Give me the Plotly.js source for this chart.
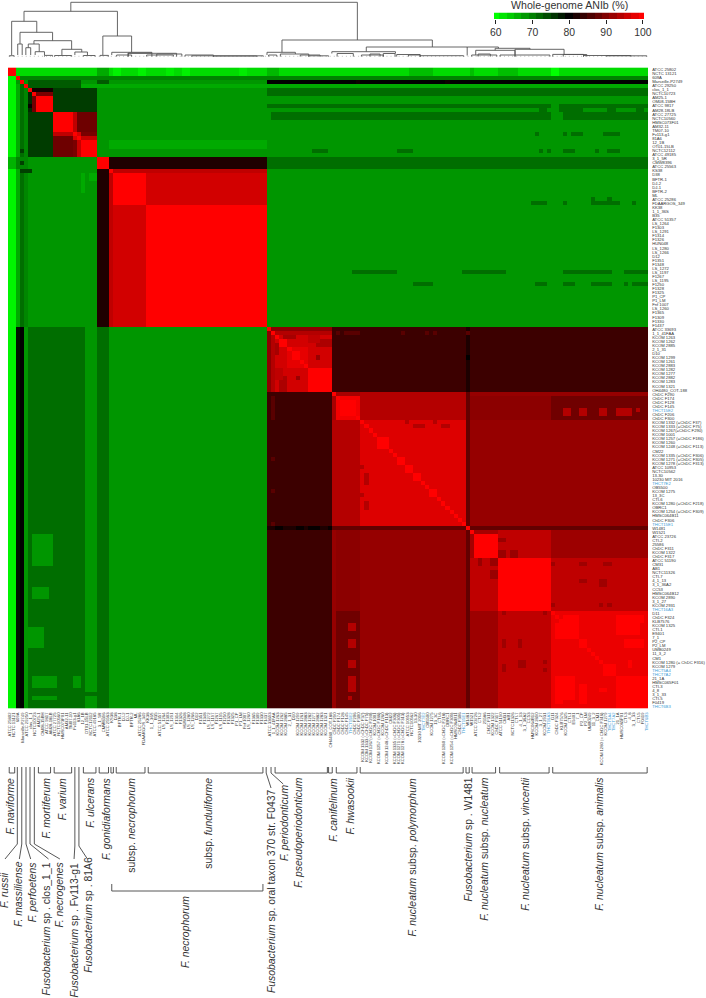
<!DOCTYPE html>
<html>
<head>
<meta charset="utf-8">
<script src="https://cdn.plot.ly/plotly-3.0.1.min.js"></script>
<style>html,body{margin:0;padding:0;background:#fff}</style>
</head>
<body>
<div id="chart" style="width:706px;height:998px"></div>
<script>
var strainsUpper = ["ATCC 25802","NCTC 13121","609A","Marseille-P2749","ATCC 29250","clos_1_1","NCTC10723","AM25-1","OM08-15BH","ATCC 9817","AM28-18LB","ATCC 27725","NCTC10560","HMSC073F01","AM32-11","TM07-10","Fv113-g1","81A6","12_1B","OT01-15LB","NCTC12112","ATCC 49185","3_1_5R","CMW8396","ATCC 25563","KS38","D38","BFTR-1","DJ-2","DJ-1","BFTR-2","ML","ATCC 25286","FDAARGOS_349","KK38","1_1_36S","B35","ATCC 51357","LS_1264","F1303","LS_1291","F1314","F1326","HUN048","LS_1280","LS_1266","D12","F1351","F1348","LS_1272","LS_1197","F1267","LS_1195","F1250","F1328","F1325","P1_CP","P1_LM","Fnf 1007","LS_1260","F1365","F1309","F1330","F1437"];
var strainsLower = ["ATCC 33693","1_1_41FAA","KCOM 1263","KCOM 1262","KCOM 2885","2_1_31","D10","KCOM 1299","KCOM 1261","KCOM 2883","KCOM 1282","KCOM 1277","KCOM 2882","KCOM 1283","KCOM 1321","OH4480_COT-188","ChDC F290","ChDC F174","ChDC F128","ChDC F145","THCT15E2","ChDC F206","ChDC F300","KCOM 1332 (=ChDC F37)","KCOM 1333 (=ChDC F75)","KCOM 1267(=ChDC F290)","KCOM 1001","KCOM 1257 (=ChDC F186)","KCOM 1260","KCOM 1248 (=ChDC F113)","CM22","KCOM 1335 (=ChDC F306)","KCOM 1271 (=ChDC F305)","KCOM 1278 (=ChDC F313)","ATCC 10953","NCTC10562","13-30","10230 MIT 2016","THCT7E2","OB5500","KCOM 1275","13_3C","CTI-6","KCOM 1280 (=ChDC F218)","OBRC1","KCOM 1254 (=ChDC F309)","HMSC064B11","ChDC F306","THCT15E1","W1481","W1521","ATCC 23726","CTI-2","25586","ChDC F311","KCOM 1322","ChDC F317","ATCC 51190","CM31","AB1","NCTC11326","CTI-7","4_1_13","3_1_36A2","CC53","HMSC064B12","KCOM 2890","3_1_27","KCOM 2931","THCT16A3","D11","ChDC F324","KLB7576","KCOM 1325","CTI-1","E9401","7_1","P2_CP","P2_LM","UMB0249","11_3_2","CM1","KCOM 1280 (= ChDC F316)","KCOM 1279","THCT5A4","THCT7A2","21_1A","HMSC065F01","CTI-3","4_8","3_1_33","CTI-5","F0419","THCT6B3"];
var blueStrains = ["THCT15E2","THCT7E2","THCT15E1","THCT16A3","THCT5A4","THCT7A2","THCT6B3"];

// ANIb: [rowFrom,rowTo,colFrom,colTo,value]
var backgroundAni = 68.2;
var symmetricBlocks = [
[22,24,64,157,71.4],[5,10,11,21,75.3],[22,24,25,63,82.4],[25,63,25,63,96.5],[25,25,25,63,95],[26,33,26,33,100],[34,63,34,63,100],
[5,5,6,10,81.5],[6,6,7,10,89.4],[7,10,7,10,100],[11,15,11,15,100],[11,15,16,16,95],[11,15,17,21,88.6],[16,16,17,17,97],[16,16,18,21,89.5],[17,17,18,21,95.5],[18,21,18,21,100],[22,24,22,24,100],[0,1,0,1,100],
[64,79,64,157,84.7],[64,64,65,79,91],[65,65,66,79,94],[66,79,66,79,96.5],[69,73,69,73,98],[67,68,67,68,100],[70,71,70,71,100],[74,79,74,79,100],[66,66,68,70,93],[67,68,76,79,93.5],[71,71,76,76,92],[74,76,66,67,95],
[80,157,80,157,91.8],[80,86,80,86,93],[81,86,81,86,99],[82,84,82,85,100],[80,86,87,112,94.1],[87,112,87,112,97.3],[81,86,134,157,88.8],[81,86,114,133,91],
[113,113,64,79,82.3],[113,113,80,157,87.8],[114,120,114,120,93],[115,120,115,120,100],[114,120,121,133,95],[114,120,134,157,92.3],[121,133,121,133,100],[121,133,134,157,95],[134,157,134,157,98.4],
[137,140,137,140,100],[141,142,141,142,100],[147,149,147,149,100],[150,157,150,157,100],[135,136,137,140,100],[135,135,150,152,100],[135,135,155,156,100],[137,138,150,152,100],[137,138,155,155,100],[150,156,135,136,100],[150,155,137,139,100],[152,156,141,142,100],[153,153,146,147,100],
[122,122,141,142,92.5],[122,122,147,148,92.5],[122,122,134,134,92.5],[126,126,141,142,92.5],[126,127,146,147,92.5],[132,132,134,134,92.5],[132,132,146,146,92.5],[132,132,148,148,92.5],[116,116,121,122,92],[119,120,121,122,92],[119,120,124,125,92],
[84,85,137,138,94],[84,85,141,142,94],[84,85,146,147,94],[84,85,150,153,94],[84,84,155,155,94],[87,87,98,98,94],[88,88,100,102,94],[87,87,105,105,94],[88,88,107,108,94],
[91,93,91,93,100],[96,97,96,97,100],[98,99,98,99,100],[100,101,100,101,100],[104,105,104,105,100]
];
var oneWayBlocks = [
[0,1,2,157,62.8],[2,157,0,1,60.8],[0,1,22,24,66.7],[0,1,26,27,61],[0,1,32,33,61],[0,1,39,40,61.5],[0,1,43,44,61],[0,1,57,58,61.5],[0,1,64,66,65.5],[0,1,99,104,65],[0,1,114,114,65],[0,1,121,125,65],[0,1,134,135,60],
[2,2,3,157,69.8],[3,4,5,17,72.9],[3,3,18,21,68.2],[3,3,22,24,72.9],[4,4,18,157,66.7],[3,3,64,157,80],[3,3,86,86,81],[3,3,108,108,81],
[5,6,64,157,71.5],[9,9,64,157,71.4],[9,9,134,135,68.2],[11,12,65,157,71.4],[11,12,134,136,68.2],[10,10,131,132,71.4],[10,10,136,141,71.4],[10,10,148,149,71.4],[10,10,155,156,71.4],
[16,16,130,130,71.4],[16,16,137,137,71.4],[16,16,139,141,71.4],[16,16,147,150,71.4],[20,20,75,78,71.4],[20,20,96,99,71.4],[20,20,131,131,71.4],[20,20,133,133,71.4],[20,20,137,139,71.4],[20,20,145,145,71.4],[20,20,148,150,71.4],
[32,32,144,144,71.4],[32,32,148,148,71.4],[33,33,129,132,71.4],[33,33,137,137,71.4],[33,33,144,146,71.4],[33,33,147,150,71.4],[33,33,154,154,71.4],
[50,50,85,95,71.4],[50,50,112,122,71.4],[50,50,137,143,71.4],[50,50,144,147,71.4],[50,50,148,148,71.4],[50,50,152,157,71.4],[53,53,100,104,71.4],[53,53,130,132,71.4],[53,53,137,139,71.4],[53,53,144,147,71.4],[53,53,148,148,71.4],[53,53,152,152,71.4],[53,53,154,157,71.4],
[18,19,25,63,66.7],[22,24,0,1,66],[4,63,2,2,66.7],[4,63,3,3,71.4],[5,63,4,4,69.5],[22,24,2,4,69.5],[20,20,3,3,75],[23,23,3,3,75],[25,25,3,5,75],
[64,157,2,2,78.5],[64,157,3,3,80],[64,157,4,4,68.2],[64,157,5,18,71.4],
[150,152,6,11,68.2],[155,155,6,11,68.2],[150,152,16,17,68.2],[154,154,19,21,71.4],[115,122,6,10,68.2],[128,130,6,9,68.2],[138,142,5,8,68.2],
[6,10,5,5,76.8],[9,9,5,5,80.5],[7,10,6,6,88.6],
[71,71,113,113,80],[113,113,66,67,80.5],[113,113,71,72,80.5],[113,113,74,76,80.5],[113,113,79,79,80.5],
[65,65,81,81,87],[65,65,83,86,87],[65,65,97,97,87],[65,65,103,103,87],[65,65,105,105,87],[65,65,113,113,87],[81,86,65,65,87],[96,96,65,65,87],[104,104,65,65,87],[112,112,65,65,87],
[26,28,18,18,66.7],[26,27,20,21,66.7],[29,30,18,18,66.7]
];

var colorbarValues = [60,62,64,66,68,70,72,74,76,78,80,82,84,86,88,90,92,94,96,98,100];
var colorbarTicks = [60,70,80,90,100];
var colorStops = [[0,"#00ff00"],[0.5,"#000000"],[1,"#ff0000"]];

// dendrogram links: [left leaf, right leaf, height, left child height, right child height]
var dendroLinks = [
[15.5,86.2,54.7,45.7,17],[3.95,27,45.7,35.7,21],[0.9,7.1,35.7,2,24.7],[2.96,11,24.7,13,16.3],[2.4,3.5,13,2,2],[6.4,15.7,16.3,13,7.7],[5,7.7,13,9.3,5.3],[4.4,5.6,9.3,2,2],[6.7,9,5.3,2,2],[13.3,18.2,7.7,2,5],[16.5,19.6,5,2,2],[23.4,30.5,21,2,4.7],[25.6,35.5,4.7,2,4],
[67.6,104.7,17,4.7,10],[88.4,113.3,10,5.3,9.7],[79.9,95.6,5.3,3.5,3.5],[113.3,121,10,1.5,8.7],[120.2,128.8,8.7,6.7,7.7],[115.4,125.1,6.7,2,2],[125.1,137.2,7.7,2,3],[63.9,70.9,4.7,2,3]
];
// low joins at the foot of the tree: [left leaf, right leaf, height]
var dendroFringe = [
[0.33,1.5,1.3],[9,11,1.6],[11.5,15.7,1.5],[18.6,21.5,1.5],[22.7,24.8,1.6],[26.8,30.5,2],[29.7,35.5,4],[29.6,41.6,3.7],[34.2,40.8,2],[36.7,42.9,3],[43.7,50.7,2],[45.3,63,1.2],[50.7,61.4,1],[64.3,66.3,2],[67.2,74.2,3],[72.1,77,2],[74.2,79.1,1.2],[81.2,85.2,3.5],[87.2,92.6,2],[89.3,91.8,3],[92.6,95.5,3.5],[95.9,101.7,2.5],[98.8,101.7,2],[101.7,112.4,1.3],[114.4,120.6,2],[116,119,3],[121.4,125.1,2],[125.1,133.7,2],[134.4,142,2.6],[137,142.8,2.5],[142,153.7,1.5],[147.7,157.6,1.2]
];

// species brackets under the heatmap, in cell-edge units: [from, to]
var speciesBrackets = [[0.3,1.65],[7.5,10.5],[11.4,15.7],[18.6,21.7],[22.5,24.8],[25.4,26],[26.7,33.8],[34.6,62.9],[65.9,78.8],[79.1,80],[81,86.1],[86.9,112.3],[113,113.8],[114.5,120.3],[121.3,133.5],[134.4,157.7]];
var necrophorumBracket = [25.6,62.9];
// leader lines: [start, bend depth, end, end depth]
var leaderLines = [[2.3,134,-0.74,149],[3.4,134,2.8,149],[4.44,134,5.6,149],[5.43,134,10,149],[6.5,134,12.8,149],[16.5,136,16.3,149],[17.5,136,19.6,149],[63.7,63,64.9,78],[64.9,63,67.9,74]];
// species names: [centre, first depth, text]
var speciesNames = [
[0.5,68,"<i>F. naviforme</i>"],[-1,162,"<i>F. russii</i>"],[2.5,152,"<i>F. massiliense</i>"],[6,152,"<i>F. perfoetens</i>"],[9.6,152,"<i>Fusobacterium</i> sp . clos_1_1"],[12.8,152,"<i>F. necrogenes</i>"],[16.3,153,"<i>Fusobacterium</i> sp . Fv113-g1"],[19.7,147,"<i>Fusobacterium</i> sp . 81A6"],
[9.4,68,"<i>F. mortiferum</i>"],[13.4,68,"<i>F. varium</i>"],[20.2,68,"<i>F. ulcerans</i>"],[24.2,68,"<i>F. gonidiaformans</i>"],[30.4,68,"subsp. <i>necrophorum</i>"],[49.4,68,"subsp. <i>funduliforme</i>"],[43.7,186,"<i>F. necrophorum</i>"],
[64.9,79,"<i>Fusobacterium</i> sp. oral taxon 370 str. F0437"],[68.1,75,"<i>F. periodonticum</i>"],[71.5,68,"<i>F. pseudoperiodonticum</i>"],[80.1,68,"<i>F. canifelinum</i>"],[84.4,68,"<i>F. hwasookii</i>"],
[99.8,68,"<i>F. nucleatum</i> subsp. <i>polymorphum</i>"],[113.4,68,"<i>Fusobacterium</i> sp . W1481"],[117.5,68,"<i>F. nucleatum</i> subsp. <i>nucleatum</i>"],[127.6,68,"<i>F. nucleatum</i> subsp. <i>vincentii</i>"],[145.9,68,"<i>F. nucleatum</i> subsp. <i>animalis</i>"]
];

var strains = strainsUpper.concat(strainsLower);
var N = strains.length;
var z = [];
for (var r = 0; r < N; r++) { z.push([]); for (var c = 0; c < N; c++) z[r].push(backgroundAni); }
function fill(b, mirror) {
  for (var i = b[0]; i <= b[1]; i++) for (var j = b[2]; j <= b[3]; j++) {
    z[i][j] = b[4]; if (mirror) z[j][i] = b[4];
  }
}
symmetricBlocks.forEach(function (b) { fill(b, true); });
oneWayBlocks.forEach(function (b) { fill(b, false); });
for (var d = 0; d < N; d++) z[d][d] = 100;

var tickText = strains.map(function (s) {
  return blueStrains.indexOf(s) >= 0 ? '<span style="color:#3d9bd6">' + s + '</span>' : s;
});
var tickPos = strains.map(function (s, i) { return i + 0.5; });

// the upper clades' cells are drawn a touch narrower than the lower clades', as in the source figure
var upperCount = strainsUpper.length, upperCell = 0.991, lowerCell = (N - upperCount * upperCell) / (N - upperCount);
var cellEdges = [];
for (var e = 0; e <= N; e++) cellEdges.push(e <= upperCount ? e * upperCell : upperCount * upperCell + (e - upperCount) * lowerCell);

// line geometry
var dx = [], dy = [];
dendroLinks.forEach(function (l) { dx.push(l[0], l[0], l[1], l[1], null); dy.push(l[3], l[2], l[2], l[4], null); });
dendroFringe.forEach(function (l) { dx.push(l[0], l[0], l[1], l[1], null); dy.push(0.4, l[2], l[2], 0.4, null); });
var sx = [], sy = [];
tickPos.forEach(function (p) { sx.push(p, p, null); sy.push(0.3, 1.2, null); });

var bx = [], by = [];
var BR_TOP = 57, BR_BOT = 63;
speciesBrackets.forEach(function (b) { bx.push(b[0], b[0], b[1], b[1], null); by.push(BR_TOP, BR_BOT, BR_BOT, BR_TOP, null); });
bx.push(necrophorumBracket[0], necrophorumBracket[0], necrophorumBracket[1], necrophorumBracket[1], null);
by.push(174, 181, 181, 174, null);
leaderLines.forEach(function (l) { bx.push(l[0], l[0], l[2], null); by.push(BR_TOP, l[1], l[3], null); });

var edgeRange = [-8 / 4.053, (706 - 8) / 4.053];
var hidden = { visible: false, fixedrange: true };
var W = 706, H = 998;

var traces = [
  { type: "heatmap", z: z, x: cellEdges, y: cellEdges, xaxis: "x", yaxis: "y", colorscale: colorStops, zmin: 60, zmax: 100, showscale: false, hoverinfo: "skip", zsmooth: false },
  { type: "scatter", mode: "lines", x: sx, y: sy, xaxis: "x2", yaxis: "y2", line: { color: "#888888", width: 0.6 }, hoverinfo: "skip" },
  { type: "scatter", mode: "lines", x: dx, y: dy, xaxis: "x2", yaxis: "y2", line: { color: "#555555", width: 0.9 }, hoverinfo: "skip", connectgaps: false },
  { type: "heatmap", z: [colorbarValues], x: colorbarValues, y: [0], xaxis: "x3", yaxis: "y3", colorscale: colorStops, zmin: 60, zmax: 100, showscale: false, hoverinfo: "skip" },
  { type: "scatter", mode: "lines", x: bx, y: by, xaxis: "x4", yaxis: "y4", line: { color: "#444444", width: 0.9 }, hoverinfo: "skip" }
];

var annotations = speciesNames.map(function (s) {
  return { xref: "x4", yref: "y4", x: s[0], y: s[1], text: s[2], textangle: -90, showarrow: false, xanchor: "center", yanchor: "top", font: { family: "Liberation Sans, Arial, sans-serif", size: 10.4, color: "#333333" }, borderpad: 0, borderwidth: 0 };
});
annotations.push({ xref: "paper", yref: "paper", x: 569 / W, y: 1 - 5 / H, text: "Whole-genome ANIb (%)", showarrow: false, xanchor: "center", yanchor: "middle", font: { family: "Liberation Sans, Arial, sans-serif", size: 10.6, color: "#333333" }, borderpad: 0 });

var tickFont = { family: "Liberation Sans, Arial, sans-serif", size: 4.2, color: "#333333" };
var layout = {
  width: W, height: H, margin: { l: 0, r: 0, t: 0, b: 0 }, paper_bgcolor: "#ffffff", plot_bgcolor: "#ffffff", showlegend: false, annotations: annotations,
  xaxis: { domain: [8 / W, 648.3 / W], range: [0, N], anchor: "y", side: "bottom", tickmode: "array", tickvals: tickPos, ticktext: tickText, tickangle: -90, tickfont: tickFont, ticks: "outside", ticklen: 1, tickcolor: "rgba(0,0,0,0)", showgrid: false, zeroline: false, showline: false, fixedrange: true },
  yaxis: { domain: [1 - 708.8 / H, 1 - 67.4 / H], range: [N, 0], anchor: "x", side: "right", tickmode: "array", tickvals: tickPos, ticktext: tickText, tickfont: tickFont, ticks: "outside", ticklen: 2, tickcolor: "rgba(0,0,0,0)", showgrid: false, zeroline: false, showline: false, fixedrange: true },
  xaxis2: Object.assign({ domain: [0, 1], range: edgeRange, anchor: "y2" }, hidden),
  yaxis2: Object.assign({ domain: [1 - 57 / H, 1], range: [0, 57], anchor: "x2" }, hidden),
  xaxis3: { domain: [494 / W, 644 / W], range: [59.5, 100.3], anchor: "y3", side: "bottom", tickmode: "array", tickvals: colorbarTicks, ticks: "outside", ticklen: 4, tickcolor: "#222222", tickwidth: 1, tickfont: { family: "Liberation Sans, Arial, sans-serif", size: 10.4, color: "#333333" }, showgrid: false, zeroline: false, showline: false, fixedrange: true },
  yaxis3: Object.assign({ domain: [1 - 19 / H, 1 - 12.5 / H], range: [-0.5, 0.5], anchor: "x3" }, hidden),
  xaxis4: Object.assign({ domain: [0, 1], range: edgeRange, anchor: "y4" }, hidden),
  yaxis4: Object.assign({ domain: [0, 1 - 710 / H], range: [288, 0], anchor: "x4" }, hidden)
};
Plotly.newPlot("chart", traces, layout, { displayModeBar: false, responsive: false, staticPlot: true });
</script>
</body>
</html>
